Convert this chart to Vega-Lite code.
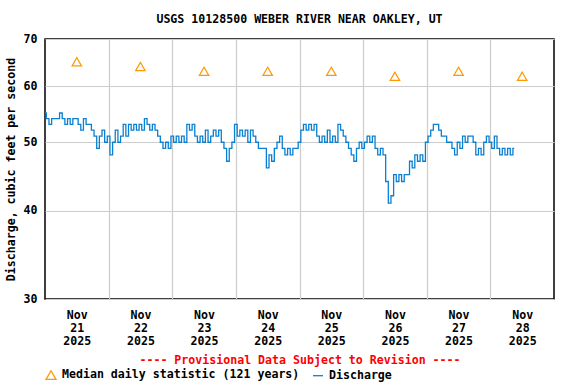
{
  "$schema": "https://vega.github.io/schema/vega-lite/v6.json",
  "width": 509,
  "height": 260,
  "autosize": {"type": "none"},
  "padding": {"left": 45, "top": 39, "right": 22, "bottom": 85},
  "background": "white",
  "title": {"text": "USGS 10128500 WEBER RIVER NEAR OAKLEY, UT", "font": "DejaVu Sans Mono", "fontSize": 11.6, "fontWeight": "bold", "color": "black", "anchor": "middle", "offset": 7},
  "config": {
    "view": {"stroke": "black", "strokeWidth": 1.5},
    "axis": {"labelFont": "DejaVu Sans Mono", "labelFontWeight": "bold", "labelFontSize": 11.6, "labelColor": "black", "titleFont": "DejaVu Sans Mono", "titleFontWeight": "bold", "titleFontSize": 11.6, "titleColor": "black", "gridColor": "#cccccc", "gridWidth": 1.2, "domain": false, "ticks": false},
    "legend": {"labelFont": "DejaVu Sans Mono", "labelFontWeight": "bold", "labelFontSize": 11.6, "labelColor": "black", "labelLimit": 0}
  },
  "datasets": {
    "discharge": [
      {"t":"2025-11-21T00:00","q":55,"s":"Discharge"},{"t":"2025-11-21T01:00","q":54,"s":"Discharge"},{"t":"2025-11-21T02:00","q":53,"s":"Discharge"},{"t":"2025-11-21T03:00","q":54,"s":"Discharge"},{"t":"2025-11-21T04:00","q":54,"s":"Discharge"},{"t":"2025-11-21T05:00","q":54,"s":"Discharge"},{"t":"2025-11-21T06:00","q":55,"s":"Discharge"},{"t":"2025-11-21T07:00","q":54,"s":"Discharge"},{"t":"2025-11-21T08:00","q":53,"s":"Discharge"},{"t":"2025-11-21T09:00","q":54,"s":"Discharge"},{"t":"2025-11-21T10:00","q":53,"s":"Discharge"},{"t":"2025-11-21T11:00","q":54,"s":"Discharge"},{"t":"2025-11-21T12:00","q":54,"s":"Discharge"},{"t":"2025-11-21T13:00","q":53,"s":"Discharge"},{"t":"2025-11-21T14:00","q":52,"s":"Discharge"},{"t":"2025-11-21T15:00","q":54,"s":"Discharge"},{"t":"2025-11-21T16:00","q":53,"s":"Discharge"},{"t":"2025-11-21T17:00","q":53,"s":"Discharge"},{"t":"2025-11-21T18:00","q":52,"s":"Discharge"},{"t":"2025-11-21T19:00","q":51,"s":"Discharge"},{"t":"2025-11-21T20:00","q":49,"s":"Discharge"},{"t":"2025-11-21T21:00","q":51,"s":"Discharge"},{"t":"2025-11-21T22:00","q":52,"s":"Discharge"},{"t":"2025-11-21T23:00","q":50,"s":"Discharge"},
      {"t":"2025-11-22T00:00","q":51,"s":"Discharge"},{"t":"2025-11-22T01:00","q":48,"s":"Discharge"},{"t":"2025-11-22T02:00","q":50,"s":"Discharge"},{"t":"2025-11-22T03:00","q":52,"s":"Discharge"},{"t":"2025-11-22T04:00","q":50,"s":"Discharge"},{"t":"2025-11-22T05:00","q":51,"s":"Discharge"},{"t":"2025-11-22T06:00","q":53,"s":"Discharge"},{"t":"2025-11-22T07:00","q":51,"s":"Discharge"},{"t":"2025-11-22T08:00","q":53,"s":"Discharge"},{"t":"2025-11-22T09:00","q":52,"s":"Discharge"},{"t":"2025-11-22T10:00","q":53,"s":"Discharge"},{"t":"2025-11-22T11:00","q":52,"s":"Discharge"},{"t":"2025-11-22T12:00","q":53,"s":"Discharge"},{"t":"2025-11-22T13:00","q":52,"s":"Discharge"},{"t":"2025-11-22T14:00","q":54,"s":"Discharge"},{"t":"2025-11-22T15:00","q":53,"s":"Discharge"},{"t":"2025-11-22T16:00","q":52,"s":"Discharge"},{"t":"2025-11-22T17:00","q":53,"s":"Discharge"},{"t":"2025-11-22T18:00","q":52,"s":"Discharge"},{"t":"2025-11-22T19:00","q":51,"s":"Discharge"},{"t":"2025-11-22T20:00","q":50,"s":"Discharge"},{"t":"2025-11-22T21:00","q":49,"s":"Discharge"},{"t":"2025-11-22T22:00","q":50,"s":"Discharge"},{"t":"2025-11-22T23:00","q":49,"s":"Discharge"},
      {"t":"2025-11-23T00:00","q":51,"s":"Discharge"},{"t":"2025-11-23T01:00","q":50,"s":"Discharge"},{"t":"2025-11-23T02:00","q":51,"s":"Discharge"},{"t":"2025-11-23T03:00","q":50,"s":"Discharge"},{"t":"2025-11-23T04:00","q":51,"s":"Discharge"},{"t":"2025-11-23T05:00","q":50,"s":"Discharge"},{"t":"2025-11-23T06:00","q":53,"s":"Discharge"},{"t":"2025-11-23T07:00","q":52,"s":"Discharge"},{"t":"2025-11-23T08:00","q":53,"s":"Discharge"},{"t":"2025-11-23T09:00","q":51,"s":"Discharge"},{"t":"2025-11-23T10:00","q":50,"s":"Discharge"},{"t":"2025-11-23T11:00","q":51,"s":"Discharge"},{"t":"2025-11-23T12:00","q":50,"s":"Discharge"},{"t":"2025-11-23T13:00","q":52,"s":"Discharge"},{"t":"2025-11-23T14:00","q":50,"s":"Discharge"},{"t":"2025-11-23T15:00","q":51,"s":"Discharge"},{"t":"2025-11-23T16:00","q":52,"s":"Discharge"},{"t":"2025-11-23T17:00","q":51,"s":"Discharge"},{"t":"2025-11-23T18:00","q":52,"s":"Discharge"},{"t":"2025-11-23T19:00","q":50,"s":"Discharge"},{"t":"2025-11-23T20:00","q":49,"s":"Discharge"},{"t":"2025-11-23T21:00","q":47,"s":"Discharge"},{"t":"2025-11-23T22:00","q":49,"s":"Discharge"},{"t":"2025-11-23T23:00","q":50,"s":"Discharge"},
      {"t":"2025-11-24T00:00","q":53,"s":"Discharge"},{"t":"2025-11-24T01:00","q":51,"s":"Discharge"},{"t":"2025-11-24T02:00","q":52,"s":"Discharge"},{"t":"2025-11-24T03:00","q":51,"s":"Discharge"},{"t":"2025-11-24T04:00","q":52,"s":"Discharge"},{"t":"2025-11-24T05:00","q":50,"s":"Discharge"},{"t":"2025-11-24T06:00","q":52,"s":"Discharge"},{"t":"2025-11-24T07:00","q":51,"s":"Discharge"},{"t":"2025-11-24T08:00","q":50,"s":"Discharge"},{"t":"2025-11-24T09:00","q":49,"s":"Discharge"},{"t":"2025-11-24T10:00","q":49,"s":"Discharge"},{"t":"2025-11-24T11:00","q":49,"s":"Discharge"},{"t":"2025-11-24T12:00","q":46,"s":"Discharge"},{"t":"2025-11-24T13:00","q":48,"s":"Discharge"},{"t":"2025-11-24T14:00","q":47,"s":"Discharge"},{"t":"2025-11-24T15:00","q":49,"s":"Discharge"},{"t":"2025-11-24T16:00","q":50,"s":"Discharge"},{"t":"2025-11-24T17:00","q":51,"s":"Discharge"},{"t":"2025-11-24T18:00","q":49,"s":"Discharge"},{"t":"2025-11-24T19:00","q":48,"s":"Discharge"},{"t":"2025-11-24T20:00","q":49,"s":"Discharge"},{"t":"2025-11-24T21:00","q":48,"s":"Discharge"},{"t":"2025-11-24T22:00","q":49,"s":"Discharge"},{"t":"2025-11-24T23:00","q":49,"s":"Discharge"},
      {"t":"2025-11-25T00:00","q":50,"s":"Discharge"},{"t":"2025-11-25T01:00","q":52,"s":"Discharge"},{"t":"2025-11-25T02:00","q":53,"s":"Discharge"},{"t":"2025-11-25T03:00","q":52,"s":"Discharge"},{"t":"2025-11-25T04:00","q":53,"s":"Discharge"},{"t":"2025-11-25T05:00","q":52,"s":"Discharge"},{"t":"2025-11-25T06:00","q":53,"s":"Discharge"},{"t":"2025-11-25T07:00","q":51,"s":"Discharge"},{"t":"2025-11-25T08:00","q":50,"s":"Discharge"},{"t":"2025-11-25T09:00","q":51,"s":"Discharge"},{"t":"2025-11-25T10:00","q":50,"s":"Discharge"},{"t":"2025-11-25T11:00","q":52,"s":"Discharge"},{"t":"2025-11-25T12:00","q":50,"s":"Discharge"},{"t":"2025-11-25T13:00","q":51,"s":"Discharge"},{"t":"2025-11-25T14:00","q":50,"s":"Discharge"},{"t":"2025-11-25T15:00","q":53,"s":"Discharge"},{"t":"2025-11-25T16:00","q":52,"s":"Discharge"},{"t":"2025-11-25T17:00","q":51,"s":"Discharge"},{"t":"2025-11-25T18:00","q":50,"s":"Discharge"},{"t":"2025-11-25T19:00","q":49,"s":"Discharge"},{"t":"2025-11-25T20:00","q":48,"s":"Discharge"},{"t":"2025-11-25T21:00","q":47,"s":"Discharge"},{"t":"2025-11-25T22:00","q":49,"s":"Discharge"},{"t":"2025-11-25T23:00","q":50,"s":"Discharge"},
      {"t":"2025-11-26T00:00","q":49,"s":"Discharge"},{"t":"2025-11-26T01:00","q":50,"s":"Discharge"},{"t":"2025-11-26T02:00","q":51,"s":"Discharge"},{"t":"2025-11-26T03:00","q":50,"s":"Discharge"},{"t":"2025-11-26T04:00","q":51,"s":"Discharge"},{"t":"2025-11-26T05:00","q":49,"s":"Discharge"},{"t":"2025-11-26T06:00","q":48,"s":"Discharge"},{"t":"2025-11-26T07:00","q":49,"s":"Discharge"},{"t":"2025-11-26T08:00","q":48,"s":"Discharge"},{"t":"2025-11-26T09:00","q":44,"s":"Discharge"},{"t":"2025-11-26T10:00","q":41,"s":"Discharge"},{"t":"2025-11-26T11:00","q":42,"s":"Discharge"},{"t":"2025-11-26T12:00","q":45,"s":"Discharge"},{"t":"2025-11-26T13:00","q":44,"s":"Discharge"},{"t":"2025-11-26T14:00","q":45,"s":"Discharge"},{"t":"2025-11-26T15:00","q":44,"s":"Discharge"},{"t":"2025-11-26T16:00","q":45,"s":"Discharge"},{"t":"2025-11-26T17:00","q":45,"s":"Discharge"},{"t":"2025-11-26T18:00","q":47,"s":"Discharge"},{"t":"2025-11-26T19:00","q":46,"s":"Discharge"},{"t":"2025-11-26T20:00","q":48,"s":"Discharge"},{"t":"2025-11-26T21:00","q":47,"s":"Discharge"},{"t":"2025-11-26T22:00","q":48,"s":"Discharge"},{"t":"2025-11-26T23:00","q":47,"s":"Discharge"},
      {"t":"2025-11-27T00:00","q":50,"s":"Discharge"},{"t":"2025-11-27T01:00","q":51,"s":"Discharge"},{"t":"2025-11-27T02:00","q":52,"s":"Discharge"},{"t":"2025-11-27T03:00","q":53,"s":"Discharge"},{"t":"2025-11-27T04:00","q":53,"s":"Discharge"},{"t":"2025-11-27T05:00","q":52,"s":"Discharge"},{"t":"2025-11-27T06:00","q":51,"s":"Discharge"},{"t":"2025-11-27T07:00","q":51,"s":"Discharge"},{"t":"2025-11-27T08:00","q":50,"s":"Discharge"},{"t":"2025-11-27T09:00","q":50,"s":"Discharge"},{"t":"2025-11-27T10:00","q":49,"s":"Discharge"},{"t":"2025-11-27T11:00","q":48,"s":"Discharge"},{"t":"2025-11-27T12:00","q":50,"s":"Discharge"},{"t":"2025-11-27T13:00","q":49,"s":"Discharge"},{"t":"2025-11-27T14:00","q":51,"s":"Discharge"},{"t":"2025-11-27T15:00","q":50,"s":"Discharge"},{"t":"2025-11-27T16:00","q":51,"s":"Discharge"},{"t":"2025-11-27T17:00","q":51,"s":"Discharge"},{"t":"2025-11-27T18:00","q":50,"s":"Discharge"},{"t":"2025-11-27T19:00","q":48,"s":"Discharge"},{"t":"2025-11-27T20:00","q":49,"s":"Discharge"},{"t":"2025-11-27T21:00","q":48,"s":"Discharge"},{"t":"2025-11-27T22:00","q":50,"s":"Discharge"},{"t":"2025-11-27T23:00","q":51,"s":"Discharge"},
      {"t":"2025-11-28T00:00","q":50,"s":"Discharge"},{"t":"2025-11-28T01:00","q":49,"s":"Discharge"},{"t":"2025-11-28T02:00","q":51,"s":"Discharge"},{"t":"2025-11-28T03:00","q":49,"s":"Discharge"},{"t":"2025-11-28T04:00","q":48,"s":"Discharge"},{"t":"2025-11-28T05:00","q":49,"s":"Discharge"},{"t":"2025-11-28T06:00","q":48,"s":"Discharge"},{"t":"2025-11-28T07:00","q":49,"s":"Discharge"},{"t":"2025-11-28T08:00","q":48,"s":"Discharge"},{"t":"2025-11-28T09:00","q":49,"s":"Discharge"}
    ],
    "median": [
      {"t":"2025-11-21T12:00","q":65,"s":"Median daily statistic (121 years)"},
      {"t":"2025-11-22T12:00","q":64,"s":"Median daily statistic (121 years)"},
      {"t":"2025-11-23T12:00","q":63,"s":"Median daily statistic (121 years)"},
      {"t":"2025-11-24T12:00","q":63,"s":"Median daily statistic (121 years)"},
      {"t":"2025-11-25T12:00","q":63,"s":"Median daily statistic (121 years)"},
      {"t":"2025-11-26T12:00","q":62,"s":"Median daily statistic (121 years)"},
      {"t":"2025-11-27T12:00","q":63,"s":"Median daily statistic (121 years)"},
      {"t":"2025-11-28T12:00","q":62,"s":"Median daily statistic (121 years)"}
    ]
  },
  "encoding": {
    "y": {"field": "q", "type": "quantitative", "scale": {"type": "log", "domain": [30, 70], "nice": false},
      "axis": {"values": [30, 40, 50, 60, 70], "grid": true, "labelPadding": 8, "title": "Discharge, cubic feet per second", "titlePadding": 7}},
    "color": {"field": "s", "type": "nominal",
      "scale": {"domain": ["Median daily statistic (121 years)", "Discharge"], "range": ["#ff9900", "#0a80d0"]},
      "legend": {"orient": "bottom", "direction": "horizontal", "title": null, "symbolSize": 100, "symbolStrokeWidth": 1.3, "labelOffset": 5, "columnPadding": 10, "offset": 2}}
  },
  "layer": [
    {
      "data": {"name": "discharge"},
      "mark": {"type": "line", "interpolate": "step", "strokeWidth": 1.3},
      "encoding": {
        "x": {"field": "t", "type": "temporal",
          "scale": {"domain": [{"year": 2025, "month": "nov", "date": 21}, {"year": 2025, "month": "nov", "date": 29}]},
          "axis": {"orient": "bottom", "values": [{"year": 2025, "month": "nov", "date": 22}, {"year": 2025, "month": "nov", "date": 23}, {"year": 2025, "month": "nov", "date": 24}, {"year": 2025, "month": "nov", "date": 25}, {"year": 2025, "month": "nov", "date": 26}, {"year": 2025, "month": "nov", "date": 27}, {"year": 2025, "month": "nov", "date": 28}],
            "grid": true, "labels": false, "ticks": false, "title": null}}
      }
    },
    {
      "data": {"name": "median"},
      "mark": {"type": "point", "filled": false, "size": 90, "strokeWidth": 1.2, "opacity": 1},
      "encoding": {
        "x": {"field": "t", "type": "temporal",
          "axis": {"orient": "bottom", "values": [{"year": 2025, "month": "nov", "date": 21, "hours": 12}, {"year": 2025, "month": "nov", "date": 22, "hours": 12}, {"year": 2025, "month": "nov", "date": 23, "hours": 12}, {"year": 2025, "month": "nov", "date": 24, "hours": 12}, {"year": 2025, "month": "nov", "date": 25, "hours": 12}, {"year": 2025, "month": "nov", "date": 26, "hours": 12}, {"year": 2025, "month": "nov", "date": 27, "hours": 12}, {"year": 2025, "month": "nov", "date": 28, "hours": 12}],
            "grid": false, "labelExpr": "[timeFormat(datum.value, '%b'), timeFormat(datum.value, '%d'), timeFormat(datum.value, '%Y')]",
            "labelLineHeight": 13, "labelPadding": 10, "labelBaseline": "top",
            "title": "---- Provisional Data Subject to Revision ----", "titleColor": "#ff0000", "titlePadding": 8}},
        "shape": {"field": "s", "type": "nominal",
          "scale": {"domain": ["Median daily statistic (121 years)", "Discharge"], "range": ["triangle-up", "stroke"]}}
      }
    }
  ],
  "resolve": {"axis": {"x": "independent"}}
}
